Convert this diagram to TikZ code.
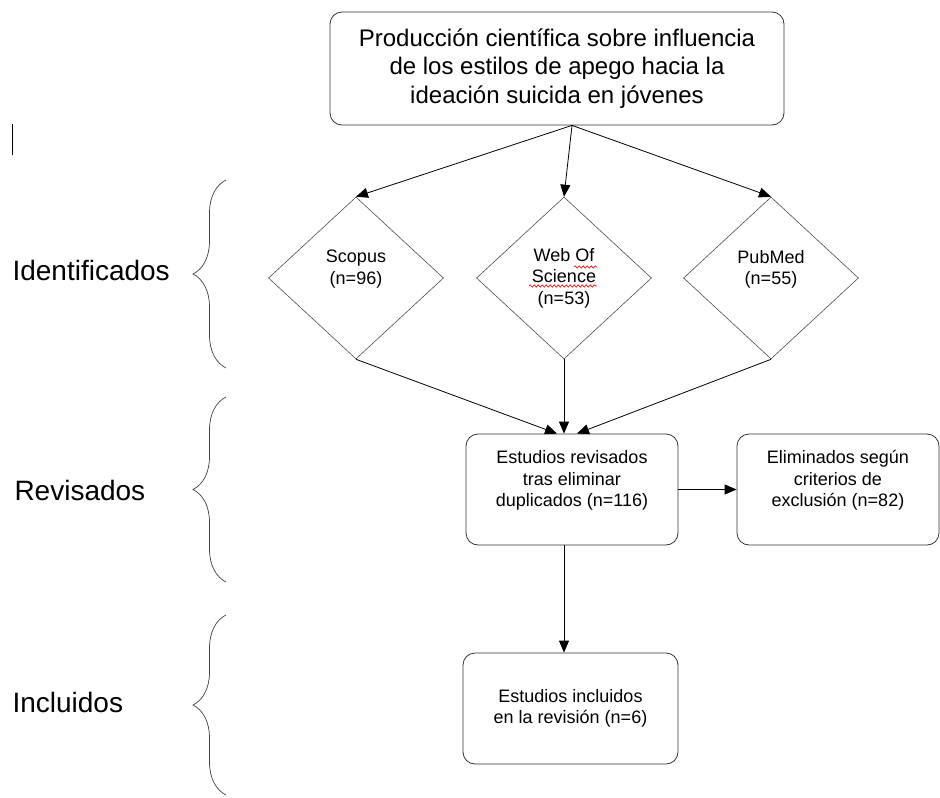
\documentclass[tikz,border=0pt]{standalone}
\usepackage{fontspec}
\setmainfont{Liberation Sans}
\usetikzlibrary{shapes.geometric,arrows.meta,decorations.pathreplacing,decorations.pathmorphing}

\begin{document}
\begin{tikzpicture}[x=1pt, y=-1pt,
        every node/.style={font=\fontsize{18}{21.5}\selectfont, align=center},
        roundbox/.style={draw=black!80, rounded corners=12pt, line width=0.8pt},
        source/.style={diamond, draw=black!70, line width=0.6pt, aspect=1.08,
                       minimum width=175pt, minimum height=162pt, inner sep=0pt},
        flow/.style={-{Triangle[length=12pt,width=10pt]}, line width=0.8pt},
        phase/.style={font=\fontsize{28}{32}\selectfont, anchor=west},
        stage/.style={decorate, decoration={brace, amplitude=33pt, aspect=0.5},
                      draw=black!75, line width=0.7pt},
        spell/.style={red, line width=0.6pt, decorate,
                      decoration={snake, segment length=4pt, amplitude=1.2pt}}]
    \useasboundingbox (0,0) rectangle (940,798);

    \node[roundbox, minimum width=454pt, minimum height=113pt,
          font=\fontsize{24}{28.5}\selectfont] (topic) at (557,68.5)
        {Producción científica sobre influencia\\de los estilos de apego hacia la\\ideación suicida en jóvenes};

    \node[source] (scopus) at (356,278) {Scopus\\(n=96)\\~};
    \node[source] (wos) at (564,278) {Web Of\\Science\\(n=53)};
    \node[source] (pubmed) at (771,278) {PubMed\\(n=55)\\~};
    \draw[spell] ([shift={(10,-11)}]wos.center) -- ([shift={(33,-11)}]wos.center);
    \draw[spell] ([shift={(-35,8)}]wos.center) -- ([shift={(33,8)}]wos.center);

    \node[roundbox, minimum width=212pt, minimum height=111pt] (rev) at (572,489.5)
        {Estudios revisados\\tras eliminar\\duplicados (n=116)\\~};
    \node[roundbox, minimum width=202pt, minimum height=111pt] (elim) at (838,489.5)
        {Eliminados según\\criterios de\\exclusión (n=82)\\~};
    \node[roundbox, minimum width=215pt, minimum height=111pt] (incl) at (570.5,708.5)
        {Estudios incluidos\\en la revisión (n=6)};

    % phases
    \node[phase] (ident) at (9,270) {Identificados};
    \node[phase] (revis) at (11,490) {Revisados};
    \node[phase] (inclu) at (9,702) {Incluidos};
    \draw[stage] (226,368) -- (226,180);
    \draw[stage] (226,582) -- (226,397);
    \draw[stage] (226,795) -- (226,615);
    \draw[line width=0.8pt] (12,124) -- (12,155);

    % connectors
    \draw[flow] ([xshift=15pt]topic.south) -- (scopus.north);
    \draw[flow] ([xshift=15pt]topic.south) -- (wos.north);
    \draw[flow] ([xshift=15pt]topic.south) -- (pubmed.north);
    \draw[flow] (scopus.south) -- ([xshift=-15pt]rev.north);
    \draw[flow] (wos.south) -- (wos.south |- rev.north);
    \draw[flow] (pubmed.south) -- ([xshift=5pt]rev.north);
    \draw[flow] (rev.east) -- (elim.west);
    \draw[flow] (wos.south |- rev.south) -- (wos.south |- incl.north);
\end{tikzpicture}
\end{document}
